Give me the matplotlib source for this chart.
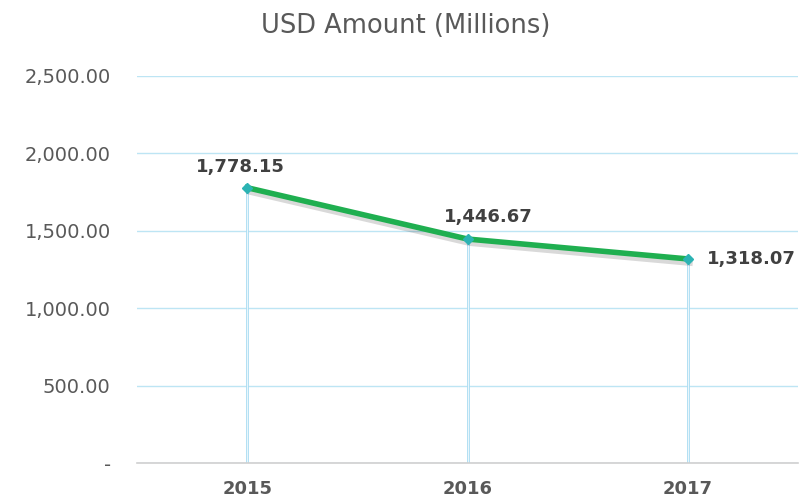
import matplotlib
matplotlib.use("Agg")
import matplotlib.pyplot as plt
import matplotlib.patheffects as pe

years = ["2015", "2016", "2017"]
amounts = [1778.15, 1446.67, 1318.07]
yticks = [0, 500, 1000, 1500, 2000, 2500]

plt.rcParams["font.family"] = ["DejaVu Sans"]

fig = plt.figure(figsize=(8.11, 5.03), dpi=100)
ax = fig.add_axes([0.169, 0.0795, 0.815, 0.7695])

x = list(range(len(years)))

# drop lines from points to the axis
for xi, v in zip(x, amounts):
    ax.plot([xi, xi], [0, v], color="#abddf2", lw=2.0, zorder=2, solid_capstyle="butt")
    ax.plot([xi, xi], [0, v], color="#f4fbfe", lw=0.6, zorder=2, solid_capstyle="butt")

ax.plot(x, amounts, color="#1faf50", lw=4, zorder=3,
        path_effects=[pe.SimpleLineShadow(offset=(1.5, -3), shadow_color="black", alpha=0.15),
                      pe.Normal()])
ax.plot(x, amounts, ls="none", marker="D", ms=5.5, color="#2bb3b3", zorder=4)

offs = [(-5, 15), (15, 16), (46, 0)]
for xi, v, (dx, dy) in zip(x, amounts, offs):
    ax.annotate(f"{v:,.2f}", (xi, v), xytext=(dx, dy), textcoords="offset points",
                ha="center", va="center", fontsize=13, fontweight="bold", color="#404040")

ax.set_xlim(-0.5, 2.5)
ax.set_ylim(0, 2500)
ax.set_yticks(yticks)
ax.set_yticklabels(["-" if t == 0 else f"{t:,.2f}" for t in yticks])
ax.set_xticks(x)
ax.set_xticklabels(years, fontweight="bold", fontsize=13)
ax.tick_params(axis="both", length=0, colors="#595959")
ax.tick_params(axis="y", labelsize=14, pad=19)
ax.tick_params(axis="x", pad=12)
ax.grid(axis="y", color="#bde5f4", lw=1)
ax.set_axisbelow(True)
for s in ["top", "right", "left"]:
    ax.spines[s].set_visible(False)
ax.spines["bottom"].set_color("#d0d0d0")
ax.spines["bottom"].set_linewidth(1.2)

fig.suptitle("USD Amount (Millions)", y=0.975, fontsize=18.5, color="#595959")
fig.savefig("out.png", dpi=100)
